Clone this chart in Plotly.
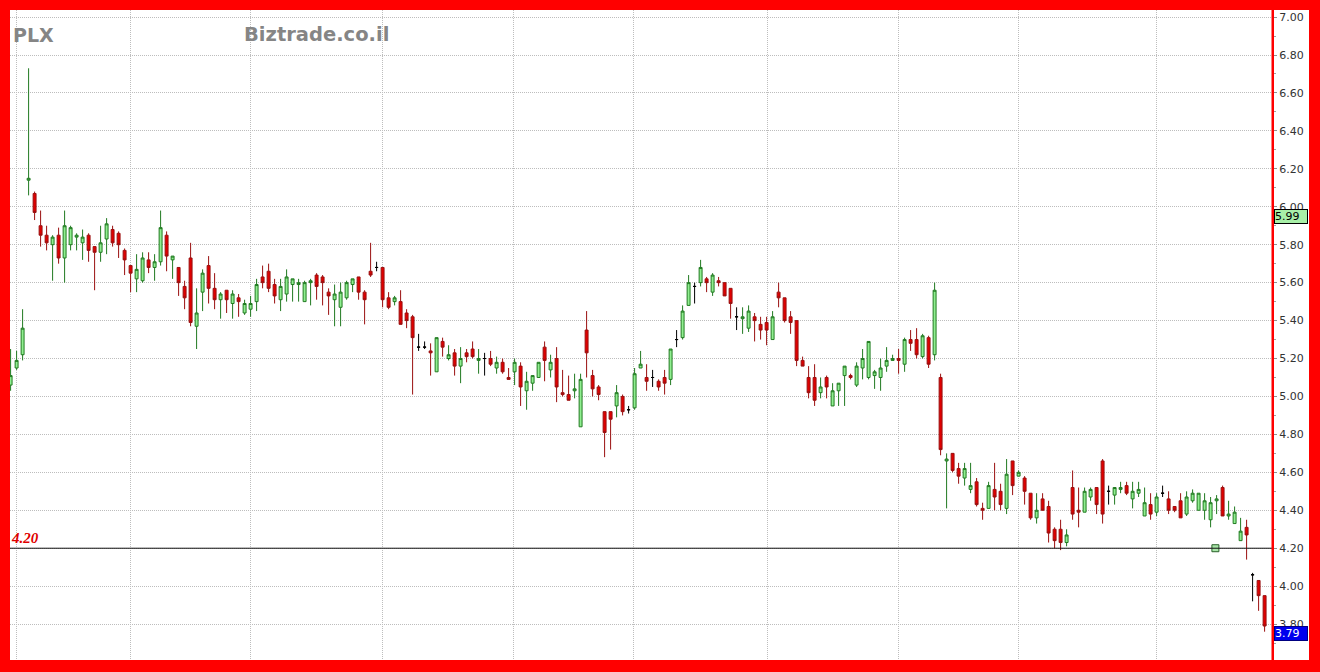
import plotly.graph_objects as go

# ---- data ----
opens = [5.06,5.15,5.22,6.14,6.07,5.90,5.85,5.80,5.85,5.73,5.80,5.84,5.81,5.85,5.79,5.76,5.83,5.88,5.86,5.77,
         5.69,5.62,5.61,5.72,5.68,5.71,5.85,5.72,5.68,5.58,5.73,5.37,5.55,5.69,5.57,5.51,5.56,5.49,5.52,5.44,
         5.46,5.50,5.63,5.66,5.59,5.51,5.54,5.59,5.59,5.50,5.60,5.64,5.63,5.55,5.51,5.47,5.52,5.59,5.63,5.55,
         5.66,5.68,5.68,5.52,5.50,5.50,5.44,5.42,5.26,5.26,5.24,5.13,5.29,5.20,5.23,5.16,5.23,5.25,5.19,5.20,
         5.20,5.15,5.18,5.10,5.13,5.16,5.03,5.07,5.10,5.26,5.14,5.20,5.02,5.01,5.03,4.84,5.35,5.11,5.05,4.92,
         4.92,4.95,5.00,4.93,4.94,5.15,5.10,5.10,5.08,5.10,5.09,5.30,5.31,5.48,5.58,5.60,5.62,5.55,5.61,5.60,
         5.57,5.42,5.41,5.36,5.42,5.38,5.39,5.30,5.55,5.52,5.42,5.40,5.19,5.10,5.10,5.02,5.10,4.95,5.03,5.11,
         5.11,5.06,5.15,5.10,5.11,5.10,5.16,5.19,5.20,5.17,5.30,5.30,5.21,5.31,5.22,5.10,4.66,4.70,4.62,4.57,
         4.51,4.55,4.41,4.41,4.51,4.50,4.41,4.66,4.58,4.57,4.49,4.36,4.46,4.42,4.30,4.30,4.23,4.52,4.40,4.39,
         4.47,4.52,4.66,4.50,4.48,4.51,4.53,4.46,4.49,4.37,4.43,4.39,4.49,4.46,4.42,4.45,4.38,4.45,4.40,4.40,
         4.35,4.45,4.52,4.37,4.33,4.24,4.31,4.06,4.03,3.95]
highs = [5.25,5.24,5.46,6.73,6.08,5.98,5.90,5.85,5.89,5.98,5.90,5.86,5.88,5.86,5.79,5.90,5.94,5.90,5.87,5.78,
         5.69,5.75,5.76,5.76,5.75,5.98,5.87,5.74,5.68,5.61,5.81,5.57,5.67,5.74,5.65,5.55,5.56,5.56,5.54,5.51,
         5.53,5.62,5.69,5.70,5.62,5.62,5.67,5.62,5.62,5.61,5.62,5.65,5.64,5.57,5.59,5.60,5.61,5.62,5.63,5.56,
         5.81,5.71,5.68,5.55,5.53,5.56,5.46,5.43,5.33,5.29,5.28,5.31,5.31,5.27,5.25,5.26,5.25,5.29,5.25,5.23,
         5.24,5.21,5.20,5.15,5.20,5.18,5.13,5.11,5.18,5.29,5.22,5.26,5.14,5.11,5.12,5.12,5.45,5.14,5.06,4.92,
         4.92,5.06,5.01,4.95,5.15,5.24,5.17,5.14,5.09,5.14,5.25,5.35,5.48,5.64,5.60,5.72,5.63,5.65,5.63,5.60,
         5.57,5.47,5.47,5.48,5.44,5.42,5.42,5.45,5.60,5.52,5.45,5.40,5.21,5.16,5.17,5.10,5.11,5.07,5.07,5.16,
         5.12,5.18,5.25,5.29,5.14,5.20,5.26,5.22,5.25,5.31,5.35,5.36,5.33,5.32,5.60,5.12,4.70,4.70,4.65,4.65,
         4.65,4.57,4.44,4.55,4.65,4.54,4.67,4.66,4.61,4.58,4.49,4.49,4.49,4.45,4.31,4.35,4.30,4.61,4.52,4.52,
         4.52,4.52,4.67,4.53,4.52,4.55,4.55,4.55,4.55,4.52,4.49,4.49,4.53,4.50,4.42,4.49,4.50,4.51,4.49,4.49,
         4.47,4.48,4.53,4.45,4.42,4.36,4.35,4.07,4.03,3.95]
lows = [5.03,5.14,5.19,6.06,5.93,5.79,5.77,5.61,5.70,5.60,5.77,5.77,5.72,5.71,5.56,5.71,5.75,5.79,5.73,5.64,
        5.55,5.55,5.60,5.65,5.61,5.69,5.66,5.62,5.53,5.46,5.37,5.25,5.45,5.49,5.46,5.41,5.44,5.41,5.42,5.43,
        5.42,5.45,5.57,5.55,5.49,5.45,5.50,5.50,5.50,5.50,5.48,5.51,5.48,5.43,5.37,5.37,5.51,5.55,5.51,5.38,
        5.63,5.66,5.47,5.46,5.48,5.38,5.36,5.01,5.24,5.25,5.11,5.13,5.21,5.19,5.11,5.07,5.18,5.20,5.12,5.11,
        5.16,5.12,5.12,5.09,5.06,4.95,4.93,5.03,5.10,5.08,5.10,4.97,5.00,4.98,4.99,4.84,5.10,5.00,4.98,4.68,
        4.72,4.89,4.90,4.91,4.93,5.15,5.03,5.05,5.03,5.01,5.06,5.26,5.30,5.48,5.49,5.58,5.55,5.53,5.58,5.53,
        5.41,5.35,5.33,5.34,5.29,5.30,5.27,5.30,5.47,5.39,5.33,5.16,5.16,4.99,4.95,4.99,4.99,4.95,4.95,4.95,
        5.09,5.05,5.09,5.09,5.04,5.03,5.13,5.19,5.12,5.13,5.24,5.20,5.20,5.15,5.19,4.69,4.41,4.60,4.54,4.53,
        4.49,4.42,4.35,4.41,4.40,4.40,4.38,4.48,4.58,4.43,4.35,4.33,4.40,4.23,4.20,4.19,4.21,4.35,4.31,4.39,
        4.45,4.38,4.33,4.43,4.43,4.49,4.48,4.41,4.47,4.37,4.35,4.37,4.47,4.38,4.39,4.36,4.37,4.44,4.40,4.35,
        4.31,4.38,4.37,4.35,4.33,4.24,4.14,3.92,3.87,3.76]
closes = [5.11,5.19,5.36,6.15,5.97,5.85,5.81,5.84,5.73,5.90,5.89,5.85,5.84,5.77,5.76,5.81,5.91,5.81,5.80,5.72,
          5.65,5.67,5.73,5.68,5.71,5.89,5.74,5.74,5.60,5.52,5.39,5.44,5.65,5.57,5.51,5.54,5.51,5.54,5.50,5.49,
          5.49,5.59,5.60,5.57,5.53,5.58,5.63,5.62,5.60,5.60,5.61,5.58,5.60,5.53,5.54,5.55,5.60,5.62,5.55,5.51,
          5.64,5.68,5.51,5.47,5.52,5.38,5.40,5.31,5.26,5.26,5.23,5.31,5.26,5.22,5.16,5.20,5.21,5.21,5.20,5.20,
          5.17,5.18,5.13,5.09,5.18,5.05,5.08,5.11,5.18,5.19,5.18,5.05,5.01,4.98,5.04,5.09,5.23,5.04,5.01,4.81,
          4.88,5.02,4.92,4.93,5.12,5.17,5.08,5.10,5.05,5.07,5.25,5.30,5.45,5.60,5.58,5.68,5.60,5.64,5.60,5.53,
          5.49,5.42,5.42,5.45,5.40,5.35,5.35,5.42,5.52,5.40,5.39,5.19,5.16,5.02,4.98,5.05,5.05,5.03,5.07,5.16,
          5.10,5.16,5.20,5.29,5.13,5.15,5.19,5.20,5.19,5.30,5.28,5.22,5.32,5.17,5.56,4.72,4.67,4.61,4.58,4.62,
          4.53,4.43,4.40,4.53,4.47,4.43,4.59,4.53,4.60,4.50,4.36,4.40,4.40,4.28,4.24,4.23,4.27,4.38,4.39,4.50,
          4.51,4.43,4.38,4.50,4.52,4.52,4.49,4.50,4.51,4.44,4.38,4.47,4.49,4.40,4.40,4.36,4.47,4.49,4.49,4.45,
          4.44,4.46,4.37,4.38,4.39,4.29,4.27,4.06,3.95,3.79]
days = list(range(len(closes)))
month_lines = [1, 20, 40, 62, 83.8, 103.8, 126.2, 148, 168, 191]
ytick_vals = [3.8, 4.0, 4.2, 4.4, 4.6, 4.8, 5.0, 5.2, 5.4, 5.6, 5.8, 6.0, 6.2, 6.4, 6.6, 6.8, 7.0]
level_line = 4.20
last_label = 3.79
upper_label = 5.99
marker_day = 200.8

# ---- split into up / down / doji ----
def subset(cond):
    idx = [i for i in days if cond(opens[i], closes[i])]
    return ([days[i] for i in idx], [opens[i] for i in idx], [highs[i] for i in idx],
            [lows[i] for i in idx], [closes[i] for i in idx])

up = subset(lambda o, c: c > o)
dn = subset(lambda o, c: c < o)
dj = subset(lambda o, c: c == o)

GREEN_FILL = "#90ee90"
GREEN_LINE = "#217a21"
RED_FILL = "#e00000"
RED_LINE = "#9a1010"

fig = go.Figure()

def add_candles(data, fill, line):
    x, o, h, l, c = data
    fig.add_trace(go.Candlestick(
        x=x, open=o, high=h, low=l, close=c,
        increasing=dict(fillcolor=fill, line=dict(color=line, width=1)),
        decreasing=dict(fillcolor=fill, line=dict(color=line, width=1)),
        whiskerwidth=0, showlegend=False, hoverinfo="skip"))

add_candles(up, GREEN_FILL, GREEN_LINE)
add_candles(dn, RED_FILL, RED_LINE)
add_candles(dj, "#000000", "#000000")

fig.add_trace(go.Scatter(
    x=[marker_day], y=[level_line], mode="markers",
    marker=dict(symbol="square", size=7, color="#a8e6a8", line=dict(color="#2a602a", width=1)),
    showlegend=False, hoverinfo="skip"))

W, H = 1320, 672
L, R, T, B = 10, 48, 10, 12
pw, ph = W - L - R, H - T - B

def px_x(X):
    return (X - L) / pw

def px_y(Y):
    return (H - B - Y) / ph

shapes = [
    dict(type="line", xref="paper", yref="y", x0=0, x1=1, y0=level_line, y1=level_line,
         line=dict(color="#111111", width=1), layer="above"),
]
red = dict(type="rect", xref="paper", yref="paper", fillcolor="#ff0000",
           line=dict(width=0), layer="above")
shapes += [
    dict(red, x0=px_x(0), x1=px_x(W), y0=px_y(10), y1=px_y(0)),
    dict(red, x0=px_x(0), x1=px_x(W), y0=px_y(H), y1=px_y(660)),
    dict(red, x0=px_x(0), x1=px_x(10), y0=px_y(H), y1=px_y(0)),
    dict(red, x0=px_x(1309), x1=px_x(W), y0=px_y(H), y1=px_y(0)),
    dict(red, x0=px_x(1271.5), x1=px_x(1274), y0=px_y(H), y1=px_y(0)),
]

annotations = [
    dict(text="<b>PLX</b>", xref="paper", yref="paper", x=px_x(11), y=px_y(35),
         xanchor="left", yanchor="middle", showarrow=False,
         font=dict(family="DejaVu Sans", size=19, color="#858585")),
    dict(text="<b>Biztrade.co.il</b>", xref="paper", yref="paper", x=px_x(242), y=px_y(35),
         xanchor="left", yanchor="middle", showarrow=False,
         font=dict(family="DejaVu Sans", size=19.5, color="#858585")),
    dict(text="4.20", xref="paper", yref="y", x=px_x(9), y=level_line,
         xanchor="left", yanchor="bottom", showarrow=False, yshift=0,
         font=dict(family="Liberation Serif", size=15, color="#e00000", style="italic", weight="bold")),
    dict(text="5.99", xref="paper", yref="y", x=px_x(1274), y=upper_label,
         xanchor="left", yanchor="top", showarrow=False, align="left",
         bgcolor="#a8f0a8", bordercolor="#000000", borderwidth=1, borderpad=0, width=32, height=13,
         font=dict(family="DejaVu Sans", size=11, color="#000000")),
    dict(text="3.79", xref="paper", yref="y", x=px_x(1274), y=last_label,
         xanchor="left", yanchor="top", showarrow=False, align="left",
         bgcolor="#0000ee", bordercolor="#000080", borderwidth=1, borderpad=0, width=32, height=13,
         font=dict(family="DejaVu Sans", size=11, color="#ffffff")),
]

ylo = 6.8 - (660 - 55) / 189.7
yhi = 6.8 + (55 - 10) / 189.7
xlo = -0.1
xhi = xlo + pw / 6.0

fig.update_layout(
    width=W, height=H,
    margin=dict(l=L, r=R, t=T, b=B, pad=0),
    paper_bgcolor="#ffffff", plot_bgcolor="#ffffff",
    shapes=shapes, annotations=annotations,
    showlegend=False,
    xaxis=dict(range=[xlo, xhi], type="linear", rangeslider=dict(visible=False),
               tickvals=month_lines, showticklabels=False, ticks="",
               showgrid=True, gridcolor="#bdbdbd", griddash="1px,1px", gridwidth=1,
               zeroline=False, showline=False, fixedrange=True),
    yaxis=dict(range=[ylo, yhi], side="right", tickvals=ytick_vals, tickformat=".2f",
               ticks="outside", ticklen=4, tickcolor="#909090", tickwidth=1,
               tickfont=dict(family="DejaVu Sans", size=11, color="#333333"),
               showgrid=True, gridcolor="#bdbdbd", griddash="1px,1px", gridwidth=1,
               zeroline=False, showline=False,
               minor=dict(dtick=0.1, tick0=0, ticks="outside", ticklen=3, tickcolor="#a0a0a0", showgrid=False)),
)

fig.write_html(
    "out.html",
    config={"displayModeBar": False},
    post_script="document.body.style.margin='0';document.body.style.padding='0';document.body.style.overflow='hidden';",
)
